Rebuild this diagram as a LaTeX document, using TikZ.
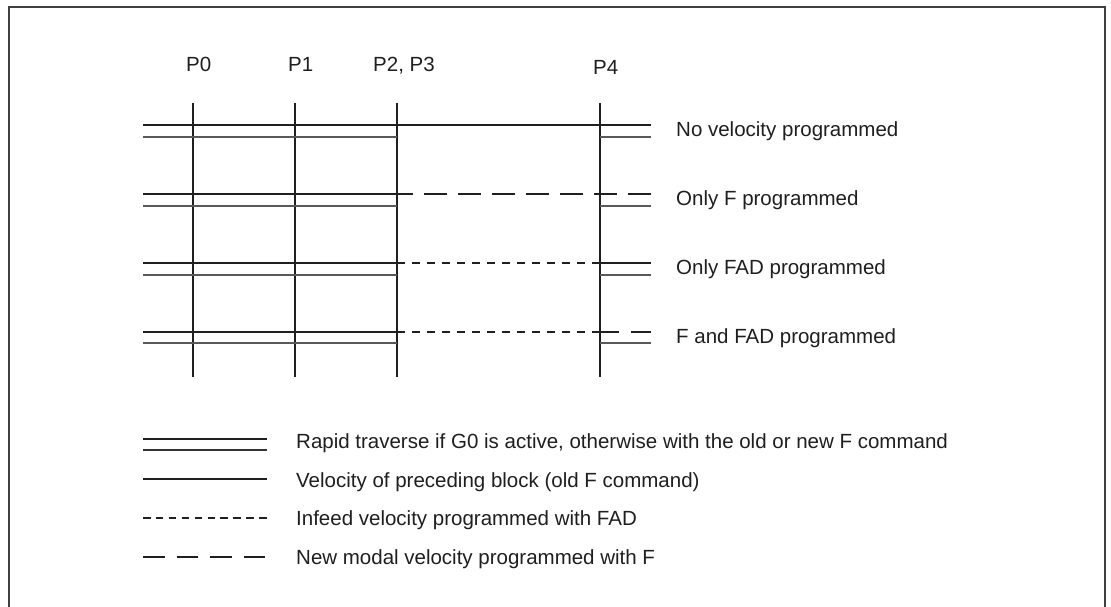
\documentclass[tikz,border=0pt]{standalone}
\usepackage{fontspec}
\setmainfont{Liberation Sans}
\begin{document}
\begin{tikzpicture}[x=1pt,y=-1pt,
  heavy/.style={draw=black!88,line width=1.8pt},
  thin2/.style={draw=black!65,line width=1.3pt},
  shortdash/.style={draw=black!88,line width=1.8pt,dash pattern=on 8pt off 7pt},
  longdash/.style={draw=black!88,line width=1.8pt,dash pattern=on 23pt off 11pt},
  lshort/.style={draw=black!88,line width=1.6pt,dash pattern=on 7.5pt off 5.4pt},
  llong/.style={draw=black!88,line width=1.6pt,dash pattern=on 21.5pt off 12pt},
  vline/.style={draw=black!88,line width=1.8pt},
  frame/.style={draw=black!75,line width=2pt},
  lbl/.style={font=\fontsize{20.5pt}{23pt}\selectfont,text=black!88,inner sep=0pt,anchor=base west}]
\useasboundingbox (0,0) rectangle (1111,607);
\fill[white] (0,0) rectangle (1111,607);
% frame (open at bottom)
\draw[frame] (9,607) -- (9,7) -- (1105,7) -- (1105,607);

% point labels
\node[lbl] (p0) at (186,72) {P0};
\node[lbl] (p1) at (288,72) {P1};
\node[lbl] (p23) at (373,72) {P2, P3};
\node[lbl] (p4) at (593,75) {P4};

% vertical lines
\foreach \x/\n in {193/a,295/b,397/c,600/d}{
  \coordinate (\n top) at (\x,103);
  \coordinate (\n bot) at (\x,377);
  \draw[vline] (\n top) -- (\n bot);
}

% row 1: no velocity programmed
\draw[heavy] (143,125) -- (651,125);
\draw[thin2] (143,137) -- (397,137);
\draw[thin2] (600,137) -- (651,137);
\node[lbl] (r1) at (676,136) {No velocity programmed};

% row 2: only F programmed
\draw[heavy] (143,194) -- (397,194);
\draw[longdash] (390,194) -- (651,194);
\draw[thin2] (143,206) -- (397,206);
\draw[thin2] (600,206) -- (651,206);
\node[lbl] (r2) at (676,205) {Only F programmed};

% row 3: only FAD programmed
\draw[heavy] (143,263) -- (403,263);
\draw[shortdash] (397,263) -- (600,263);
\draw[heavy] (600,263) -- (651,263);
\draw[thin2] (143,275) -- (397,275);
\draw[thin2] (600,275) -- (651,275);
\node[lbl] (r3) at (676,274) {Only FAD programmed};

% row 4: F and FAD programmed
\draw[heavy] (143,332) -- (403,332);
\draw[shortdash] (397,332) -- (600,332);
\draw[llong] (597,332) -- (651,332);
\draw[thin2] (143,343) -- (397,343);
\draw[thin2] (600,343) -- (651,343);
\node[lbl] (r4) at (676,343) {F and FAD programmed};

% legend
\draw[heavy] (143,439) -- (267,439);
\draw[draw=black!80,line width=1.2pt] (143,450) -- (267,450);
\node[lbl] (l1) at (296,448) {Rapid traverse if G0 is active, otherwise with the old or new F command};
\draw[heavy] (143,479) -- (267,479);
\node[lbl] (l2) at (296,487) {Velocity of preceding block (old F command)};
\draw[lshort] (143,518) -- (267,518);
\node[lbl] (l3) at (296,525) {Infeed velocity programmed with FAD};
\draw[llong] (143,557) -- (267,557);
\node[lbl] (l4) at (296,564) {New modal velocity programmed with F};
\end{tikzpicture}
\end{document}
